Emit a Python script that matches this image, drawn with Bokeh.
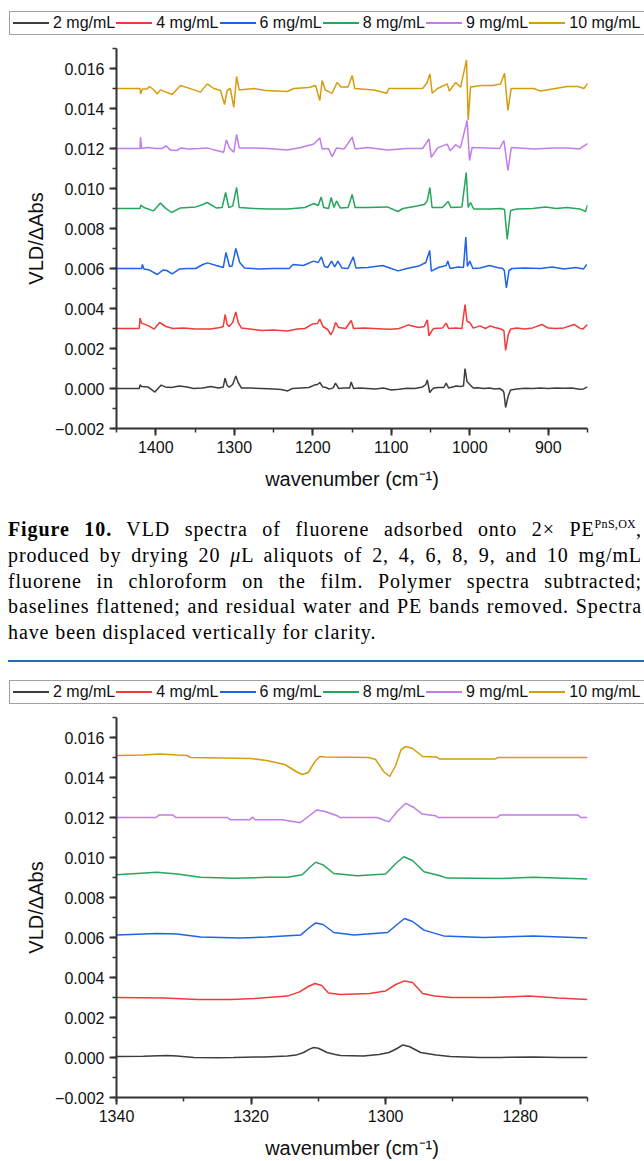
from bokeh.plotting import figure
from bokeh.models import (SingleIntervalTicker, CustomJSTickFormatter, Range1d, Div)
from bokeh.layouts import column
from bokeh.embed import file_html
from bokeh.resources import INLINE

# ---------------- data ----------------
SERIES = ["2 mg/mL", "4 mg/mL", "6 mg/mL", "8 mg/mL", "9 mg/mL", "10 mg/mL"]
COLORS = ["#3d3d3d", "#f23a3a", "#1f63e6", "#24a65c", "#c07ceb", "#d69c0c"]

# ---- top panel: full range 1450-850 cm-1 ----
TOP_WN_2 = [1450, 1421, 1420, 1418, 1410, 1401, 1396, 1393, 1388, 1380, 1370, 1360, 1352, 1340, 1330, 1320,
            1314, 1311.7, 1309, 1306.5, 1302, 1298, 1295, 1291, 1280, 1265, 1250, 1240, 1232, 1226, 1215, 1205,
            1198, 1194, 1191, 1187, 1183, 1179, 1174, 1171, 1167, 1160, 1153, 1151, 1148, 1140, 1130, 1120,
            1110, 1100, 1090, 1080, 1070, 1060, 1056, 1054, 1051, 1048, 1046, 1040, 1033, 1030, 1027, 1022,
            1017, 1012, 1008, 1006, 1003.5, 1000, 995.6, 990, 982, 975, 968, 962, 958, 956.5, 954.3, 951, 948,
            940, 930, 920, 910, 900, 890, 880, 870, 860, 855, 850]
TOP_VLD_2 = [0.0, 0.0, 0.00018, 0.0001, 0.00008, -0.00018, 0.00005, 0.00017, 0.00008, 0.00005, 0.00013, 0.00008,
             0.0, 0.00002, 0.0001, 0.00002, 0.00008, 0.00052, 0.00015, 0.00007, 0.0002, 0.00063, 0.0003, 0.00003,
             0.00002, 0.0, -0.00002, -0.00005, -0.00012, 0.0, 0.00003, 0.00005, 0.00017, 0.0002, 0.0003, 0.00007,
             0.00005, -0.00003, 0.00003, 0.00027, 0.0, 0.00002, 0.00002, 0.00033, 0.0, 0.00002, 0.0, -0.00003,
             0.00002, -0.00007, -0.00004, 0.00001, 0.0, 0.00008, 0.0002, 0.00043, -0.0002, -0.00005, 0.00002,
             0.00005, 0.00005, 0.00027, 0.00003, 0.00008, 0.00013, 0.0001, 0.00012, 0.001, 0.00035, 0.0002,
             0.00002, 0.00004, 0.0, 0.00003, -0.00002, 0.0, -0.0001, -0.0002, -0.00095, -0.00037, -0.00007,
             -0.00002, 0.00001, 0.0, 0.00002, 0.0, 0.00003, 0.00001, 0.00003, -0.00004, -0.00002, 0.00008]

TOP_WN_4 = [1450, 1421, 1420, 1418, 1409, 1402, 1395, 1387, 1378, 1365, 1350, 1330, 1318, 1314, 1311.7, 1309,
            1306.5, 1302, 1298, 1295, 1291, 1280, 1265, 1250, 1232, 1220, 1210, 1200, 1194, 1191, 1187, 1181,
            1177, 1174, 1171, 1167, 1158, 1151, 1148, 1135, 1122, 1110, 1100, 1090, 1078, 1065, 1058, 1054,
            1052, 1048, 1046, 1035, 1030, 1027, 1018, 1010, 1006, 1003.5, 1000, 995.6, 987, 980, 974, 968, 960,
            956.5, 954.3, 951, 948, 940, 930, 920, 908, 900, 890, 880, 867, 860, 856, 850]
TOP_VLD_4 = [0.003, 0.003, 0.00352, 0.00327, 0.00313, 0.00297, 0.0033, 0.0031, 0.003, 0.00302, 0.00298, 0.00297,
             0.00305, 0.0031, 0.0037, 0.0032, 0.0031, 0.0033, 0.00383, 0.0033, 0.00303, 0.00298, 0.0029, 0.00292,
             0.00287, 0.00298, 0.003, 0.00323, 0.00325, 0.00347, 0.0031, 0.00295, 0.00268, 0.0029, 0.0033,
             0.00305, 0.003, 0.0034, 0.003, 0.00302, 0.003, 0.00298, 0.00296, 0.003, 0.00318, 0.00305, 0.0031,
             0.00343, 0.00263, 0.0029, 0.003, 0.00302, 0.00327, 0.003, 0.00303, 0.003, 0.0042, 0.00335, 0.0033,
             0.00302, 0.00313, 0.003, 0.00313, 0.00305, 0.00297, 0.0029, 0.0019, 0.00268, 0.00297, 0.00302,
             0.00298, 0.00303, 0.0032, 0.00302, 0.003, 0.00303, 0.0032, 0.00302, 0.00297, 0.0032]

TOP_WN_6 = [1450, 1418, 1417, 1415, 1408, 1398, 1391, 1386, 1379, 1370, 1360, 1349, 1340, 1334, 1323, 1314,
            1310.5, 1306, 1302.7, 1298, 1293, 1287, 1270, 1250, 1230, 1225, 1212, 1199, 1193, 1189, 1185, 1181,
            1176, 1172, 1168, 1163, 1155, 1148.4, 1145, 1130, 1111, 1100, 1091.5, 1080, 1065, 1056, 1051, 1049,
            1040, 1030, 1028, 1025, 1015, 1008, 1005, 1003, 1000, 996, 987, 975, 965, 958, 956, 953.3, 950, 946,
            930, 910, 895, 880, 865, 855, 851]
TOP_VLD_6 = [0.006, 0.006, 0.0062, 0.00598, 0.00592, 0.0057, 0.00592, 0.0059, 0.00573, 0.00597, 0.006, 0.006,
             0.0062, 0.00628, 0.00615, 0.00605, 0.0068, 0.0061, 0.00613, 0.007, 0.0063, 0.00603, 0.00598, 0.006,
             0.006, 0.0062, 0.00615, 0.00637, 0.0063, 0.00658, 0.0061, 0.00605, 0.00637, 0.00608, 0.00637,
             0.00603, 0.006, 0.00658, 0.00603, 0.00605, 0.00615, 0.006, 0.00588, 0.006, 0.00612, 0.0063, 0.0069,
             0.00587, 0.00605, 0.00615, 0.00637, 0.006, 0.00608, 0.00605, 0.00757, 0.0061, 0.00637, 0.006,
             0.00603, 0.00615, 0.00605, 0.006, 0.0059, 0.00503, 0.0059, 0.006, 0.00603, 0.006, 0.00607, 0.00598,
             0.00605, 0.00598, 0.0062]

TOP_WN_8 = [1450, 1420, 1419, 1415, 1403, 1394, 1388, 1380, 1368.5, 1349, 1340, 1334.5, 1323, 1315.5, 1311,
            1307, 1302, 1297, 1293.7, 1275, 1258, 1232, 1210, 1198.6, 1193, 1189.3, 1186, 1180, 1176.5, 1173,
            1169.7, 1165, 1155, 1149.8, 1146, 1130, 1105, 1091.6, 1085, 1067, 1058, 1054.2, 1050.8, 1048, 1035,
            1027.5, 1024, 1010, 1004.5, 1002, 999, 995, 975, 960, 955.7, 952.3, 948, 940, 920, 903.5, 890,
            875.8, 860, 852.5, 850]
TOP_VLD_8 = [0.009, 0.009, 0.00917, 0.00905, 0.00888, 0.00927, 0.00903, 0.0088, 0.00903, 0.00908, 0.0092,
             0.0093, 0.00903, 0.00905, 0.0098, 0.00905, 0.00912, 0.01005, 0.00905, 0.009, 0.00897, 0.00897,
             0.00905, 0.00925, 0.00915, 0.00958, 0.00905, 0.009, 0.00955, 0.00905, 0.00938, 0.00903, 0.00905,
             0.0097, 0.00905, 0.00905, 0.00908, 0.00885, 0.009, 0.00912, 0.0092, 0.00938, 0.01005, 0.00905,
             0.00905, 0.00935, 0.00905, 0.00908, 0.0108, 0.00905, 0.0093, 0.00898, 0.00898, 0.009, 0.00895,
             0.00746, 0.0089, 0.00898, 0.009, 0.00908, 0.009, 0.00905, 0.00898, 0.00885, 0.00918]

TOP_WN_9 = [1450, 1420, 1419.4, 1418, 1410, 1400, 1392, 1387, 1381, 1373, 1368, 1358, 1345, 1334.5, 1325,
            1313.5, 1310, 1306, 1300.6, 1297, 1293.7, 1275, 1258, 1232.5, 1215, 1198.6, 1191, 1188, 1180,
            1175.3, 1169.7, 1160, 1149.8, 1146, 1130, 1105, 1080, 1060, 1052, 1049, 1041, 1028.7, 1025, 1018,
            1012, 1003.3, 1000.3, 997, 978, 962, 956.5, 951.4, 947, 918, 893, 876, 860, 849.5]
TOP_VLD_9 = [0.012, 0.012, 0.01256, 0.012, 0.01205, 0.012, 0.012, 0.01213, 0.01192, 0.0119, 0.01203, 0.01197,
             0.012, 0.01203, 0.01192, 0.01181, 0.01243, 0.01203, 0.01181, 0.0127, 0.01203, 0.01203, 0.012,
             0.01192, 0.01205, 0.01222, 0.01253, 0.01197, 0.012, 0.01159, 0.01203, 0.01198, 0.01256, 0.01198,
             0.01205, 0.01192, 0.012, 0.012, 0.01248, 0.01156, 0.01203, 0.01222, 0.01189, 0.01219, 0.01203,
             0.0134, 0.0114, 0.01205, 0.01203, 0.012, 0.0124, 0.0109, 0.01205, 0.01197, 0.01203, 0.01203,
             0.01198, 0.01226]

TOP_WN_10 = [1450, 1420, 1419.4, 1417, 1411, 1408, 1403, 1398, 1394, 1390, 1379, 1368.5, 1358, 1343, 1334.5,
             1326, 1317.5, 1312.4, 1309, 1305, 1300.6, 1297, 1293.7, 1275, 1260, 1232.5, 1224, 1205, 1196.4,
             1191, 1188, 1184, 1175.3, 1169, 1164, 1155, 1149.8, 1146.4, 1122, 1106, 1103, 1075, 1060, 1054.2,
             1050.8, 1047.8, 1041, 1028.7, 1026, 1018, 1011.7, 1004.1, 1002, 999, 985, 971.4, 960.8, 955.7,
             951.4, 947.2, 918.3, 910, 875.8, 862, 854.6, 849.5]
TOP_VLD_10 = [0.015, 0.015, 0.01473, 0.01498, 0.01498, 0.0151, 0.01495, 0.01473, 0.01493, 0.01487, 0.0147,
              0.01515, 0.01502, 0.01482, 0.01523, 0.015, 0.0149, 0.0142, 0.0149, 0.015, 0.01406, 0.0156,
              0.01493, 0.015, 0.0149, 0.01485, 0.015, 0.01505, 0.01515, 0.0144, 0.0154, 0.01493, 0.01476,
              0.0153, 0.01507, 0.01507, 0.01565, 0.015, 0.01492, 0.01476, 0.015, 0.015, 0.015, 0.0153, 0.01573,
              0.01476, 0.015, 0.01523, 0.01487, 0.0153, 0.01507, 0.01643, 0.01343, 0.01507, 0.01515, 0.01515,
              0.01523, 0.01576, 0.0139, 0.015, 0.015, 0.01487, 0.0151, 0.0151, 0.015, 0.01527]

# ---- bottom panel: zoom 1340-1270 cm-1 ----
BOT_WN_2 = [1340, 1336, 1332.5, 1331, 1328.5, 1325, 1322.6, 1318.1, 1314.6, 1313.3, 1312.2, 1311.3, 1310.7,
            1310, 1308.7, 1307.5, 1306.7, 1303.3, 1301, 1299.5, 1298.3, 1297.5, 1296.5, 1294.8, 1292.5, 1290.4,
            1286, 1283, 1278, 1274, 1270]
BOT_VLD_2 = [0.00005, 0.00006, 0.0001, 0.00007, 0.0, -0.00001, 0.0, 0.00003, 0.00007, 0.00012, 0.00025,
             0.00042, 0.0005, 0.00046, 0.00025, 0.00015, 0.0001, 0.00007, 0.00015, 0.00025, 0.00045, 0.00062,
             0.00055, 0.00025, 0.00012, 0.00005, 0.0, 0.0, 0.00003, 0.0, 0.0]

BOT_WN_4 = [1340, 1332.9, 1328, 1323, 1319.5, 1314.6, 1312.8, 1311.5, 1310.5, 1309.5, 1308.5, 1306.7, 1302.4,
            1300, 1298.5, 1297.2, 1296, 1294.5, 1292.7, 1290.2, 1284.2, 1278.7, 1274.4, 1270]
BOT_VLD_4 = [0.003, 0.00298, 0.0029, 0.0029, 0.00295, 0.00307, 0.00328, 0.00355, 0.0037, 0.0036, 0.00323,
             0.00315, 0.0032, 0.00333, 0.00365, 0.00383, 0.00375, 0.0032, 0.00308, 0.003, 0.003, 0.00307,
             0.00298, 0.0029]

BOT_WN_6 = [1340, 1334, 1331, 1327.5, 1321.6, 1317.6, 1312.6, 1311.5, 1310.4, 1309.3, 1307.7, 1304.7, 1299.7,
            1298.3, 1297.2, 1296, 1294.3, 1291.4, 1285.4, 1278, 1270]
BOT_VLD_6 = [0.00613, 0.0062, 0.00618, 0.00603, 0.00597, 0.00603, 0.00613, 0.00645, 0.00673, 0.00665, 0.00625,
             0.00613, 0.00625, 0.00665, 0.00695, 0.0068, 0.00637, 0.00608, 0.006, 0.00607, 0.00597]

BOT_WN_8 = [1340, 1334, 1331, 1327.5, 1322.6, 1317.6, 1314.6, 1312.4, 1311.3, 1310.4, 1309.3, 1307.7, 1304.2,
            1300, 1298.5, 1297.3, 1296, 1294.3, 1291.9, 1290.9, 1283, 1278, 1270]
BOT_VLD_8 = [0.00914, 0.00926, 0.00918, 0.00901, 0.00896, 0.00901, 0.00901, 0.00914, 0.0095, 0.00976, 0.00963,
             0.0092, 0.00909, 0.00918, 0.0097, 0.01004, 0.00985, 0.00929, 0.00909, 0.00897, 0.00895, 0.00901,
             0.00892]

BOT_WN_9 = [1340, 1334.1, 1333.7, 1331.6, 1331.2, 1323.5, 1323.1, 1320.2, 1319.8, 1319.4, 1315.4, 1312.7,
            1311.3, 1310.2, 1309, 1307.2, 1306.8, 1301.3, 1299.5, 1298.3, 1297, 1295.8, 1294.6, 1292.6, 1292.2,
            1283.4, 1283, 1271.4, 1271, 1270]
BOT_VLD_9 = [0.012, 0.012, 0.01212, 0.01212, 0.012, 0.012, 0.01189, 0.01189, 0.01202, 0.01189, 0.01189,
             0.01174, 0.0121, 0.01238, 0.0123, 0.01209, 0.012, 0.012, 0.01178, 0.0123, 0.01271, 0.0125, 0.01218,
             0.01209, 0.012, 0.012, 0.01212, 0.01212, 0.012, 0.012]

BOT_WN_10 = [1340, 1336, 1333.5, 1331, 1329.5, 1329, 1320, 1317.7, 1315, 1313.3, 1312.4, 1311.5, 1310.5, 1309.8,
             1309, 1302.5, 1301.5, 1300.3, 1299.4, 1298.5, 1297.7, 1297, 1296, 1294.5, 1292.4, 1292, 1283.7,
             1283.3, 1270]
BOT_VLD_10 = [0.0151, 0.01512, 0.01518, 0.01512, 0.0151, 0.015, 0.01495, 0.01485, 0.01465, 0.0143, 0.01415,
              0.01425, 0.0148, 0.01505, 0.01502, 0.015, 0.0149, 0.0143, 0.01405, 0.0146, 0.0154, 0.01555,
              0.01545, 0.01505, 0.01502, 0.01493, 0.01493, 0.015, 0.015]

Y_RANGE = (-0.002, 0.017)
TOP_X_RANGE = (1450, 850)
BOT_X_RANGE = (1340, 1270)

X_TITLE = "wavenumber (cm\u207b\u00b9)"
Y_TITLE = "VLD/\u0394Abs"

CAPTION_LINES = [
    "<b>Figure 10.</b> VLD spectra of fluorene adsorbed onto 2\u00d7 PE"
    "<span style='font-size:12px;position:relative;top:-8px;letter-spacing:0.3px'>PnS,OX</span>,",
    "produced by drying 20 <i>\u03bc</i>L aliquots of 2, 4, 6, 8, 9, and 10 mg/mL",
    "fluorene in chloroform on the film. Polymer spectra subtracted;",
    "baselines flattened; and residual water and PE bands removed. Spectra",
    "have been displaced vertically for clarity.",
]

AXIS_COLOR = "#333333"
SANS = "Liberation Sans"


def legend_div():
    items = []
    for s, c in zip(SERIES, COLORS):
        items.append(
            f"<span style=\"display:inline-block;width:36px;height:1.6px;background:{c};\"></span>"
            f"<span style=\"margin-left:4px;margin-right:1px;\">{s}</span>")
    html = (
        "<div style=\"position:relative;width:644px;height:40px;overflow:hidden;background:white;\">"
        "<div style=\"position:absolute;left:9px;top:11px;width:680px;height:24px;box-sizing:border-box;"
        "border:1px solid #a0a0a0;display:flex;align-items:center;padding-left:3px;white-space:nowrap;"
        f"font-family:'{SANS}',Arial,sans-serif;font-size:16px;color:#111111;\">"
        + "".join(items) +
        "</div></div>")
    return Div(text=html, width=644, height=40, margin=0)


def make_panel(x_range, x_interval, wn_lists, val_lists, height, bottom_border):
    p = figure(width=644, height=height, output_backend="svg", toolbar_location=None, title=None,
               x_range=Range1d(*x_range), y_range=Range1d(*Y_RANGE),
               min_border_left=116, min_border_right=57, min_border_top=8,
               min_border_bottom=bottom_border)
    p.xgrid.visible = False
    p.ygrid.visible = False
    p.outline_line_color = None
    p.background_fill_color = "white"

    for wn, vals, col in zip(wn_lists, val_lists, COLORS):
        p.line(wn, vals, line_color=col, line_width=1.5)

    xa = p.xaxis[0]
    ya = p.yaxis[0]
    xa.ticker = SingleIntervalTicker(interval=x_interval, num_minor_ticks=2)
    ya.ticker = SingleIntervalTicker(interval=0.002, num_minor_ticks=2)
    ya.formatter = CustomJSTickFormatter(code="""
        const v = Math.round(tick * 1000) / 1000;
        return (v < 0 ? '\u2212' : '') + Math.abs(v).toFixed(3);
    """)
    for ax in (xa, ya):
        ax.axis_line_color = AXIS_COLOR
        ax.axis_line_width = 2
        ax.major_tick_line_color = AXIS_COLOR
        ax.major_tick_line_width = 2
        ax.minor_tick_line_color = AXIS_COLOR
        ax.minor_tick_line_width = 1.5
        ax.major_tick_out = 7
        ax.major_tick_in = 0
        ax.minor_tick_out = 4
        ax.minor_tick_in = 0
        ax.major_label_text_font = SANS
        ax.major_label_text_font_size = "16px"
        ax.major_label_text_color = "#111111"
        ax.major_label_standoff = 5
        ax.axis_label_text_font = SANS
        ax.axis_label_text_font_size = "20px"
        ax.axis_label_text_font_style = "normal"
        ax.axis_label_text_color = "#111111"
    xa.axis_label = X_TITLE
    ya.axis_label = Y_TITLE
    xa.axis_label_standoff = 12
    ya.axis_label_standoff = 5
    return p


top = make_panel(TOP_X_RANGE, 100,
                 [TOP_WN_2, TOP_WN_4, TOP_WN_6, TOP_WN_8, TOP_WN_9, TOP_WN_10],
                 [TOP_VLD_2, TOP_VLD_4, TOP_VLD_6, TOP_VLD_8, TOP_VLD_9, TOP_VLD_10], 460, 72)
bottom = make_panel(BOT_X_RANGE, 20,
                    [BOT_WN_2, BOT_WN_4, BOT_WN_6, BOT_WN_8, BOT_WN_9, BOT_WN_10],
                    [BOT_VLD_2, BOT_VLD_4, BOT_VLD_6, BOT_VLD_8, BOT_VLD_9, BOT_VLD_10], 452, 64)

line_html = []
for i, ln in enumerate(CAPTION_LINES):
    last = (i == len(CAPTION_LINES) - 1)
    align = "left" if last else "justify"
    line_html.append(
        f"<div style=\"height:25.75px;line-height:25.75px;text-align:{align};"
        f"text-align-last:{align};\">{ln}</div>")

caption_html = (
    "<div style=\"position:relative;width:644px;height:169px;overflow:hidden;background:white;\">"
    "<div style=\"position:absolute;left:8px;top:17px;width:634px;font-family:'Liberation Serif',serif;"
    "font-size:20px;letter-spacing:0.9px;color:#000;\">"
    + "".join(line_html) +
    "</div>"
    "<div style=\"position:absolute;left:8px;top:160px;width:660px;height:2px;background:#1f6fba;\"></div>"
    "</div>"
)
caption = Div(text=caption_html, width=644, height=169, margin=0)

layout = column(legend_div(), top, caption, legend_div(), bottom, spacing=0)

open("out.html", "w").write(file_html(layout, INLINE))
